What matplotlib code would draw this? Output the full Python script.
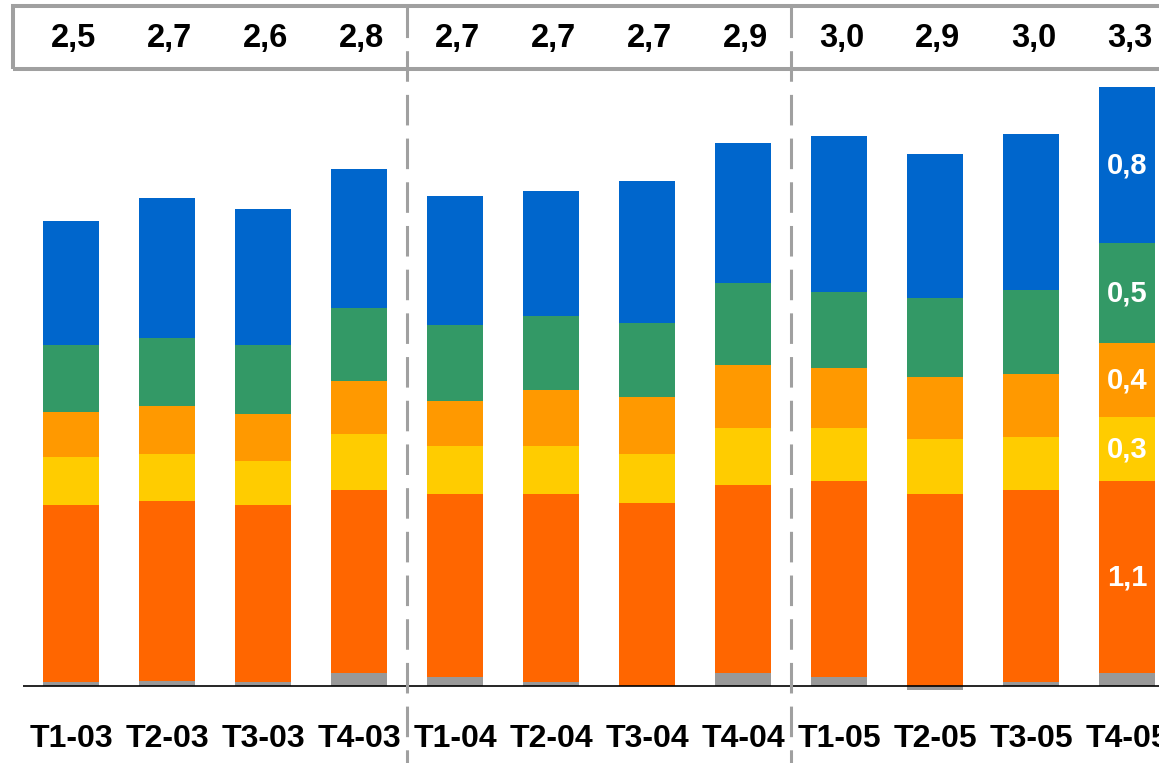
import matplotlib
matplotlib.use("Agg")
import matplotlib.pyplot as plt
import matplotlib.transforms as mtransforms
from matplotlib.patches import Rectangle
from matplotlib.lines import Line2D
import numpy as np

plt.rcParams['font.family'] = ['Liberation Sans', 'DejaVu Sans']

# quarters
quarters = ['T1-03', 'T2-03', 'T3-03', 'T4-03',
            'T1-04', 'T2-04', 'T3-04', 'T4-04',
            'T1-05', 'T2-05', 'T3-05', 'T4-05']

# segment values (bottom to top)
seg_gray = [0.02, 0.03, 0.02, 0.07, 0.05, 0.02, 0.00, 0.07, 0.05, -0.02, 0.02, 0.07]
seg_red = [0.98, 0.99, 0.98, 1.01, 1.01, 1.04, 1.01, 1.04, 1.08, 1.06, 1.06, 1.06]
seg_yellow = [0.26, 0.26, 0.24, 0.31, 0.26, 0.26, 0.27, 0.31, 0.29, 0.30, 0.29, 0.35]
seg_orange = [0.25, 0.26, 0.26, 0.29, 0.25, 0.31, 0.31, 0.35, 0.33, 0.34, 0.35, 0.41]
seg_green = [0.37, 0.38, 0.38, 0.40, 0.42, 0.41, 0.41, 0.45, 0.42, 0.44, 0.46, 0.55]
seg_blue = [0.68, 0.77, 0.75, 0.77, 0.71, 0.69, 0.78, 0.77, 0.86, 0.79, 0.86, 0.86]

# totals shown in the top box
totals = [2.5, 2.7, 2.6, 2.8, 2.7, 2.7, 2.7, 2.9, 3.0, 2.9, 3.0, 3.3]

# labels printed inside the last bar (red, yellow, orange, green, blue)
last_labels = ['1,1', '0,3', '0,4', '0,5', '0,8']

colors = ['#999999', '#FF6600', '#FFCC00', '#FF9900', '#339966', '#0066CC']

W, H = 1159, 763
fig = plt.figure(figsize=(W / 100, H / 100), dpi=100)
ax = fig.add_axes([23 / W, (H - 700) / H, (W - 23) / W, 620 / H])

x = np.arange(len(quarters))
bw = 0.573

# gray base (can be negative)
ax.bar(x, seg_gray, bw, color=colors[0], linewidth=0)
bottom = np.maximum(np.array(seg_gray), 0)
stack = [seg_red, seg_yellow, seg_orange, seg_green, seg_blue]
seg_bottoms = []
for vals, c in zip(stack, colors[1:]):
    ax.bar(x, vals, bw, bottom=bottom, color=c, linewidth=0)
    seg_bottoms.append(bottom.copy())
    bottom = bottom + np.array(vals)

# labels inside last bar
i = len(quarters) - 1
for k, lab in enumerate(last_labels):
    yc = seg_bottoms[k][i] + stack[k][i] / 2
    ax.text(x[i], yc, lab, ha='center', va='center', color='white',
            fontsize=21, fontweight='bold')

ax.axhline(0, color='black', lw=1.2)
ax.set_xlim(-0.5, (W - 71) / 96)
ax.set_ylim(-14 / 181.5, 606 / 181.5)
for s in ax.spines.values():
    s.set_visible(False)
ax.set_yticks([])
ax.set_xticks(x, quarters, fontsize=23, fontweight='bold')
ax.tick_params(axis='x', length=0, pad=17)

# top box with totals
fig.add_artist(Rectangle((13 / W, 1 - 69 / H), 1.2, 63 / H, transform=fig.transFigure,
                         fill=False, edgecolor='#A0A0A0', lw=2.9, clip_on=False))
tr = mtransforms.blended_transform_factory(ax.transData, fig.transFigure)
for xi, t in zip(x, totals):
    ax.text(xi + 0.03, 1 - 47 / H, f"{t:.1f}".replace('.', ','), transform=tr,
            ha='center', va='baseline', fontsize=23.5, fontweight='bold', clip_on=False)

# dashed separators between years
for xs in [3.5, 7.5]:
    fig.add_artist(Line2D([xs, xs], [1 - 7 / H, 0], transform=tr, color='#A0A0A0',
                          lw=2.2, linestyle=(0, (10, 4.3)), clip_on=False))

fig.savefig('out.png', dpi=100)
